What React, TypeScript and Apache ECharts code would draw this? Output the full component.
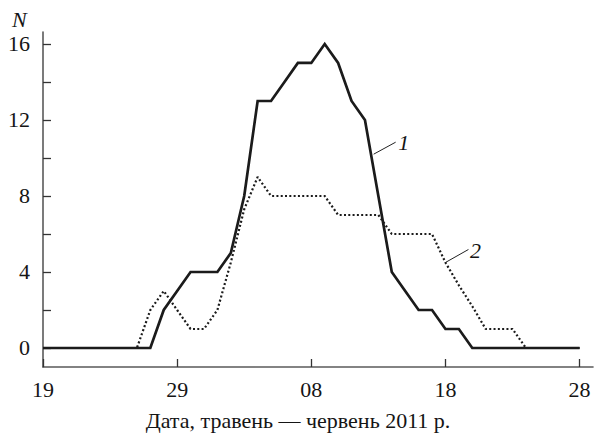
import React, { useEffect, useRef } from "react";
import * as echarts from "echarts";

// Days counted from 19 May 2011 (day 0) to 28 June 2011 (day 40)
const tickDays = [0, 10, 20, 30, 40];
const tickLabels = ["19", "29", "08", "18", "28"];

const yTicks = [0, 2, 4, 6, 8, 10, 12, 14, 16];
const yLabels = [0, 4, 8, 12, 16];

// Curve 1 (solid): daily counts N
const series1 = [
  0, 0, 0, 0, 0, 0, 0, 0, 0, 2, 3, 4, 4, 4, 5, 8, 13, 13, 14, 15, 15, 16, 15, 13,
  12, 8, 4, 3, 2, 2, 1, 1, 0, 0, 0, 0, 0, 0, 0, 0, 0,
];

// Curve 2 (dotted): daily counts N
const series2 = [
  0, 0, 0, 0, 0, 0, 0, 0, 2, 3, 2, 1, 1, 2, 4.5, 7.3, 9, 8, 8, 8, 8, 8, 7, 7, 7,
  7, 6, 6, 6, 6, 4.5, 3.3, 2.2, 1, 1, 1, 0, 0, 0, 0, 0,
];

// Where the numbered callouts touch their curves
const callout1 = [24.65, 10.2];
const callout2 = [30, 4.5];

const FAMILY = "Liberation Serif";

export default function App() {
  const ref = useRef<HTMLDivElement>(null);

  useEffect(() => {
    document.body.style.margin = "0";
    const el = ref.current;
    if (!el) return;
    const chart = echarts.init(el, null, { renderer: "svg" });

    const axisColor = "#5a5a5a";
    const textColor = "#151515";

    chart.setOption({
      animation: false,
      textStyle: { fontFamily: FAMILY },
      grid: { left: 43, right: 4, top: 32, bottom: 68 },
      xAxis: {
        type: "value",
        min: 0,
        max: 41,
        axisLine: { show: true, onZero: false, lineStyle: { color: axisColor, width: 1.6 } },
        axisTick: {
          show: true,
          inside: true,
          length: 8,
          customValues: tickDays,
          lineStyle: { color: "#333", width: 1.3 },
        },
        axisLabel: {
          customValues: tickDays,
          formatter: (v: number) => {
            const i = tickDays.indexOf(Math.round(v));
            return i >= 0 ? tickLabels[i] : "";
          },
          fontFamily: FAMILY,
          fontSize: 22,
          color: textColor,
          margin: 11,
        },
        splitLine: { show: false },
      },
      yAxis: {
        type: "value",
        min: -1,
        max: 16.63,
        axisLine: { show: true, onZero: false, lineStyle: { color: axisColor, width: 1.6 } },
        axisTick: {
          show: true,
          inside: true,
          length: 8,
          customValues: yTicks,
          lineStyle: { color: "#333", width: 1.3 },
        },
        axisLabel: {
          customValues: yLabels,
          formatter: (v: number) => String(Math.round(v)),
          fontFamily: FAMILY,
          fontSize: 22,
          color: textColor,
          margin: 13,
        },
        splitLine: { show: false },
      },
      series: [
        {
          type: "line",
          data: series1.map((v, i) => [i, v]),
          symbol: "none",
          z: 3,
          lineStyle: { color: "#1b1b1b", width: 2.7, join: "miter" },
        },
        {
          type: "line",
          data: series2.map((v, i) => [i, v]),
          symbol: "none",
          z: 2,
          lineStyle: { color: "#1b1b1b", width: 2.2, type: [2, 2.3] },
        },
      ],
    });

    const p1 = chart.convertToPixel({ gridIndex: 0 }, callout1) as number[];
    const p2 = chart.convertToPixel({ gridIndex: 0 }, callout2) as number[];

    chart.setOption({
      graphic: [
        {
          type: "text",
          left: 12,
          top: 8,
          style: { text: "N", fontFamily: FAMILY, fontStyle: "italic", fontSize: 22, fill: textColor },
        },
        {
          type: "text",
          x: 298,
          y: 420,
          style: {
            text: "Дата, травень — червень 2011 р.",
            fontFamily: FAMILY,
            fontSize: 22,
            fill: textColor,
            align: "center",
            verticalAlign: "middle",
          },
        },
        {
          type: "line",
          shape: { x1: p1[0], y1: p1[1], x2: p1[0] + 22, y2: p1[1] - 12 },
          style: { stroke: "#222", lineWidth: 1 },
        },
        {
          type: "text",
          x: p1[0] + 30,
          y: p1[1] - 12,
          style: {
            text: "1",
            fontFamily: FAMILY,
            fontStyle: "italic",
            fontSize: 22,
            fill: textColor,
            align: "center",
            verticalAlign: "middle",
          },
        },
        {
          type: "line",
          shape: { x1: p2[0], y1: p2[1], x2: p2[0] + 23, y2: p2[1] - 13 },
          style: { stroke: "#222", lineWidth: 1 },
        },
        {
          type: "text",
          x: p2[0] + 30,
          y: p2[1] - 12,
          style: {
            text: "2",
            fontFamily: FAMILY,
            fontStyle: "italic",
            fontSize: 22,
            fill: textColor,
            align: "center",
            verticalAlign: "middle",
          },
        },
      ],
    });

    return () => chart.dispose();
  }, []);

  return <div ref={ref} style={{ width: 597, height: 435 }} />;
}
